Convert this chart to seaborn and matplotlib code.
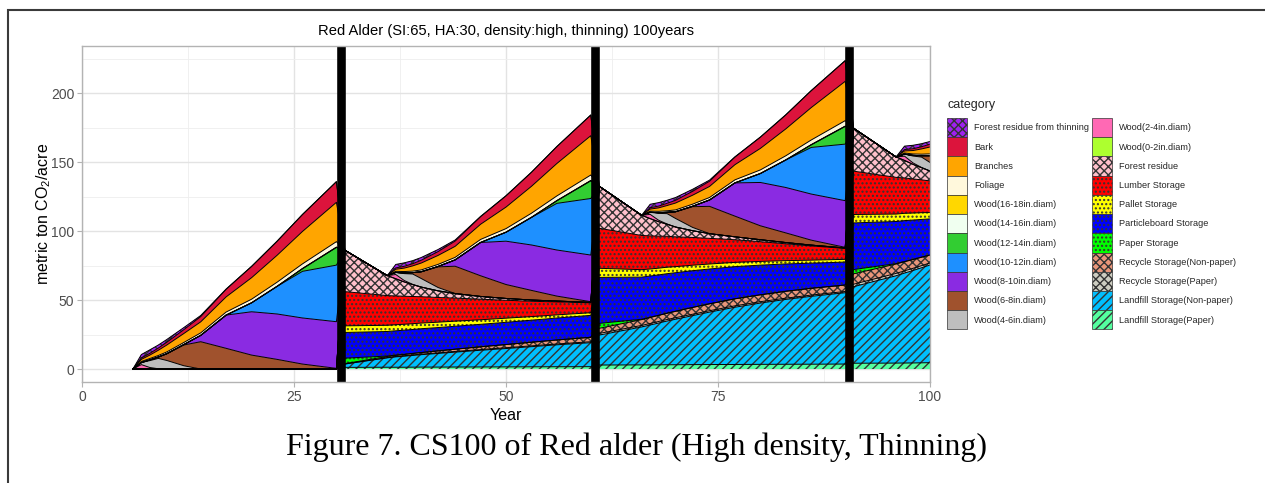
import matplotlib
matplotlib.use("Agg")
import matplotlib.pyplot as plt
from matplotlib.patches import Patch, Rectangle
import numpy as np
import pandas as pd
import seaborn as sns

# ---------------- data ----------------
YEARS = [6, 7, 8, 9, 10, 12, 14, 17, 20, 23, 26, 30,
         31, 36, 37, 38, 39, 40, 42, 44, 47, 50, 53, 56, 60,
         61, 66, 67, 68, 69, 70, 72, 74, 77, 80, 83, 86, 90,
         91, 96, 97, 98, 99, 100]

# forest pools by stand age (same growth in every rotation)
STAND_AGES = [6, 7, 8, 9, 10, 12, 14, 17, 20, 23, 26, 30]
THIN_RESIDUE = [0, 2.5, 2.5, 2.2, 2.0, 1.5, 0.8, 0.2, 0, 0, 0, 0]
BARK = [0, 1.0, 1.3, 1.6, 2.0, 2.8, 3.8, 5.5, 8.2, 10.2, 12.3, 15.0]
BRANCHES = [0, 1.5, 2.5, 3.8, 5.0, 6.5, 8.0, 11.0, 15.6, 19.5, 23.5, 28.5]
FOLIAGE = [0, 0.8, 1.0, 1.1, 1.3, 1.5, 1.8, 2.2, 2.6, 3.0, 3.4, 4.0]
WOOD_16_18 = [0, 0, 0, 0, 0, 0, 0, 0, 0, 0, 0, 0]
WOOD_14_16 = [0, 0, 0, 0, 0, 0, 0, 0, 0, 0, 0.1, 0.2]
WOOD_12_14 = [0, 0, 0, 0, 0, 0, 0, 0, 0, 0, 1.9, 12.8]
WOOD_10_12 = [0, 0, 0, 0, 0, 0, 0, 0, 6.5, 20.0, 33.8, 41.0]
WOOD_8_10 = [0, 0, 0, 0, 0, 0.3, 4.6, 24.1, 31.4, 32.9, 33.4, 33.8]
WOOD_6_8 = [0, 0, 0.5, 1.0, 4.9, 15.0, 19.8, 15.0, 10.1, 7.0, 3.6, 0.5]
WOOD_4_6 = [0, 1.5, 5.0, 7.5, 6.2, 2.4, 0, 0, 0, 0, 0, 0]
WOOD_2_4 = [0, 3.0, 1.0, 0.2, 0, 0, 0, 0, 0, 0, 0, 0]
WOOD_0_2 = [0, 0.2, 0.1, 0, 0, 0, 0, 0, 0, 0, 0, 0]

# storage pools for years 31..100 (zero before the first harvest)
STORAGE_YEARS = YEARS[12:]
FOREST_RESIDUE = [30.0, 14.5, 12.3, 10.3, 8.6, 7.0, 4.8, 3.3, 2.0, 1.3, 0.9, 0.6, 0.3,
                  30.4, 14.6, 12.4, 10.4, 8.7, 7.1, 4.9, 3.4, 2.1, 1.4, 0.9, 0.6, 0.3,
                  31.0, 14.8, 12.6, 10.5, 8.8, 7.2]
LUMBER = [24.8, 21.5, 20.9, 20.3, 19.7, 19.1, 17.9, 16.7, 14.9, 13.0, 11.1, 9.4, 7.2,
          29.0, 24.8, 24.0, 23.2, 22.4, 21.6, 20.1, 18.6, 16.4, 14.3, 12.2, 10.3, 7.9,
          31.4, 26.6, 25.6, 24.7, 23.8, 22.9]
PALLET = [4.8, 4.5, 4.4, 4.3, 4.2, 4.1, 3.9, 3.7, 3.3, 3.0, 2.6, 2.3, 1.9,
          6.6, 5.4, 5.1, 4.9, 4.7, 4.4, 4.0, 3.6, 3.1, 2.7, 2.4, 2.2, 2.0,
          6.1, 5.4, 5.3, 5.1, 4.9, 4.6]
PARTICLEBOARD = [18.6, 17.8, 17.6, 17.5, 17.3, 17.2, 16.9, 16.6, 16.3, 16.1, 16.0, 15.9, 15.9,
                 33.3, 30.5, 29.9, 29.2, 28.6, 27.9, 26.6, 25.2, 23.3, 21.5, 19.8, 18.2, 16.6,
                 33.8, 30.5, 29.6, 28.5, 27.3, 26.1]
PAPER = [4.0, 0.3, 0.2, 0.15, 0.1, 0.1, 0.05, 0.05, 0, 0, 0, 0, 0,
         3.6, 0.3, 0.2, 0.15, 0.1, 0.1, 0.05, 0.05, 0, 0, 0, 0, 0,
         3.1, 0.3, 0.2, 0.15, 0.1, 0.1]
RECYCLE_NP = [0.2, 0.8, 0.8, 0.9, 1.0, 1.1, 1.4, 1.6, 2.0, 2.3, 2.6, 2.9, 3.2,
              3.7, 4.2, 4.3, 4.4, 4.5, 4.6, 4.9, 5.0, 5.1, 5.0, 5.0, 4.9, 4.7,
              7.5, 6.8, 6.6, 6.3, 6.1, 5.7]
RECYCLE_P = [0.1, 0.2, 0.3, 0.3, 0.4, 0.4, 0.4, 0.5, 0.5, 0.6, 0.6, 0.6, 0.7,
             1.2, 1.1, 1.1, 1.1, 1.1, 1.1, 1.0, 1.0, 1.0, 1.0, 0.9, 0.9, 0.9,
             1.8, 1.7, 1.6, 1.6, 1.5, 1.5]
LANDFILL_NP = [2.4, 6.8, 7.5, 8.0, 8.5, 9.0, 9.9, 10.8, 12.1, 13.3, 14.6, 15.9, 17.4,
               21.7, 27.5, 28.9, 30.3, 31.7, 33.0, 35.5, 38.0, 41.5, 44.4, 47.0, 49.2, 51.7,
               55.5, 63.3, 65.2, 67.0, 68.9, 70.8]
LANDFILL_P = [1.2, 1.3, 1.3, 1.3, 1.35, 1.4, 1.4, 1.45, 1.5, 1.55, 1.6, 1.65, 1.7,
              2.9, 3.0, 3.0, 3.05, 3.1, 3.1, 3.2, 3.25, 3.3, 3.4, 3.45, 3.5, 3.6,
              4.2, 4.3, 4.35, 4.4, 4.5, 4.6]

HARVEST_YEARS = [30.5, 60.5, 90.5]
TITLE = "Red Alder (SI:65, HA:30, density:high, thinning) 100years"
CAPTION = "Figure 7. CS100 of Red alder (High density, Thinning)"


def forest_series(by_age):
    # rotation 1 starts at age 6, later rotations start right after harvest (value 0)
    return list(by_age) + [0] + list(by_age) + [0] + list(by_age) + [0] + list(by_age[:5])


def storage_series(vals):
    return [0] * 12 + list(vals)


STRIPE, CROSS, DOTS = "////", "xxxx", "...."
# stack order bottom -> top : (label, values, fill colour, hatch)
LAYERS = [
    ("Landfill Storage(Paper)", storage_series(LANDFILL_P), "#54FF9F", STRIPE),
    ("Landfill Storage(Non-paper)", storage_series(LANDFILL_NP), "#00BFFF", STRIPE),
    ("Recycle Storage(Paper)", storage_series(RECYCLE_P), "#CDCDC1", CROSS),
    ("Recycle Storage(Non-paper)", storage_series(RECYCLE_NP), "#E9967A", CROSS),
    ("Paper Storage", storage_series(PAPER), "#00FF00", DOTS),
    ("Particleboard Storage", storage_series(PARTICLEBOARD), "#0000FF", DOTS),
    ("Pallet Storage", storage_series(PALLET), "#FFFF00", DOTS),
    ("Lumber Storage", storage_series(LUMBER), "#FF0000", DOTS),
    ("Forest residue", storage_series(FOREST_RESIDUE), "#FFC0CB", CROSS),
    ("Wood(0-2in.diam)", forest_series(WOOD_0_2), "#ADFF2F", None),
    ("Wood(2-4in.diam)", forest_series(WOOD_2_4), "#FF69B4", None),
    ("Wood(4-6in.diam)", forest_series(WOOD_4_6), "#BEBEBE", None),
    ("Wood(6-8in.diam)", forest_series(WOOD_6_8), "#A0522D", None),
    ("Wood(8-10in.diam)", forest_series(WOOD_8_10), "#8A2BE2", None),
    ("Wood(10-12in.diam)", forest_series(WOOD_10_12), "#1E90FF", None),
    ("Wood(12-14in.diam)", forest_series(WOOD_12_14), "#32CD32", None),
    ("Wood(14-16in.diam)", forest_series(WOOD_14_16), "#F0FFF0", None),
    ("Wood(16-18in.diam)", forest_series(WOOD_16_18), "#FFD700", None),
    ("Foliage", forest_series(FOLIAGE), "#FFF8DC", None),
    ("Branches", forest_series(BRANCHES), "#FFA500", None),
    ("Bark", forest_series(BARK), "#DC143C", None),
    ("Forest residue from thinning", forest_series(THIN_RESIDUE), "#A020F0", CROSS),
]

# ---------------- style ----------------
sns.set_theme(style="whitegrid")
plt.rcParams['font.family'] = ['Liberation Sans', 'DejaVu Sans']
plt.rcParams['mathtext.fontset'] = 'custom'
plt.rcParams['mathtext.rm'] = 'Liberation Sans'
plt.rcParams['mathtext.it'] = 'Liberation Sans:italic'
plt.rcParams['hatch.linewidth'] = 1.0

W, H = 1265, 483
fig = plt.figure(figsize=(W / 100, H / 100), dpi=100)
fig.patch.set_facecolor("white")
ax = fig.add_axes([82 / W, (H - 382) / H, 848 / W, 336 / H])
ax.set_facecolor("white")

x = np.array(YEARS, dtype=float)
lower = np.zeros(len(x))
line_rows = []
for name, vals, col, hatch in LAYERS:
    v = np.array(vals, dtype=float)
    upper = lower + v
    if hatch:
        ax.fill_between(x, lower, upper, facecolor=col, edgecolor="#333333",
                        hatch=hatch, linewidth=0, zorder=2)
    else:
        ax.fill_between(x, lower, upper, facecolor=col, edgecolor="none",
                        linewidth=0, zorder=2)
    for xi, ui in zip(x, upper):
        line_rows.append({"Year": xi, "top": ui, "category": name})
    lower = upper

lines_df = pd.DataFrame(line_rows)
sns.lineplot(data=lines_df, x="Year", y="top", units="category", estimator=None,
             color="black", linewidth=0.7, ax=ax, legend=False, zorder=3)

for hx in HARVEST_YEARS:
    ax.axvline(hx, color="black", linewidth=6.2, zorder=4)

ax.set_xlim(0, 100)
ax.set_ylim(-9.4, 234.1)
ax.set_xticks([0, 25, 50, 75, 100])
ax.set_yticks([0, 50, 100, 150, 200])
ax.set_xticks([12.5, 37.5, 62.5, 87.5], minor=True)
ax.set_yticks([25, 75, 125, 175, 225], minor=True)
ax.grid(which="major", color="#E3E3E3", linewidth=1.0, zorder=0)
ax.grid(which="minor", color="#EEEEEE", linewidth=0.6, zorder=0)
ax.set_axisbelow(True)
for s in ax.spines.values():
    s.set_color("#B3B3B3")
    s.set_linewidth(1.0)
    s.set_zorder(5)
ax.tick_params(axis="both", which="major", length=3.5, width=0.8, color="#B3B3B3",
               labelsize=10, labelcolor="#4D4D4D", pad=2, bottom=True, left=True)
ax.tick_params(axis="both", which="minor", length=0)

ax.set_xlabel("Year", fontsize=11.5, color="black", labelpad=3)
ax.set_ylabel(r"metric ton CO$_2$/acre", fontsize=11.5, color="black", labelpad=1)
ax.yaxis.set_label_coords(-29 / 848, 0.5)

fig.text(506 / W, 1 - 31 / H, TITLE, ha="center", va="center", fontsize=10.6, color="black")
fig.text(636 / W, 1 - 447 / H, CAPTION, ha="center", va="center", fontsize=23,
         family=["Liberation Serif", "DejaVu Serif"], color="black")

# legend: column-major, first level on top of stack
handles = [Patch(facecolor=col, edgecolor="#333333", hatch=hatch, linewidth=0.5, label=name)
           for name, vals, col, hatch in reversed(LAYERS)]
leg = fig.legend(handles=handles, loc="upper left", bbox_to_anchor=(947 / W, 1 - 99 / H),
                 ncol=2, frameon=False, fontsize=6.6, title="category", title_fontsize=9,
                 handlelength=2.2, handleheight=2.85, labelspacing=0, handletextpad=0.75,
                 columnspacing=0.3, borderpad=0, borderaxespad=0, alignment="left")
leg._legend_box.sep = 5

# page frame
fig.add_artist(Rectangle((8 / W, -0.05), 1.0, (1 - 10 / H) + 0.05, transform=fig.transFigure,
                         fill=False, edgecolor="#3A3A3A", linewidth=1.5))

fig.savefig("out.png", dpi=100, facecolor="white")
